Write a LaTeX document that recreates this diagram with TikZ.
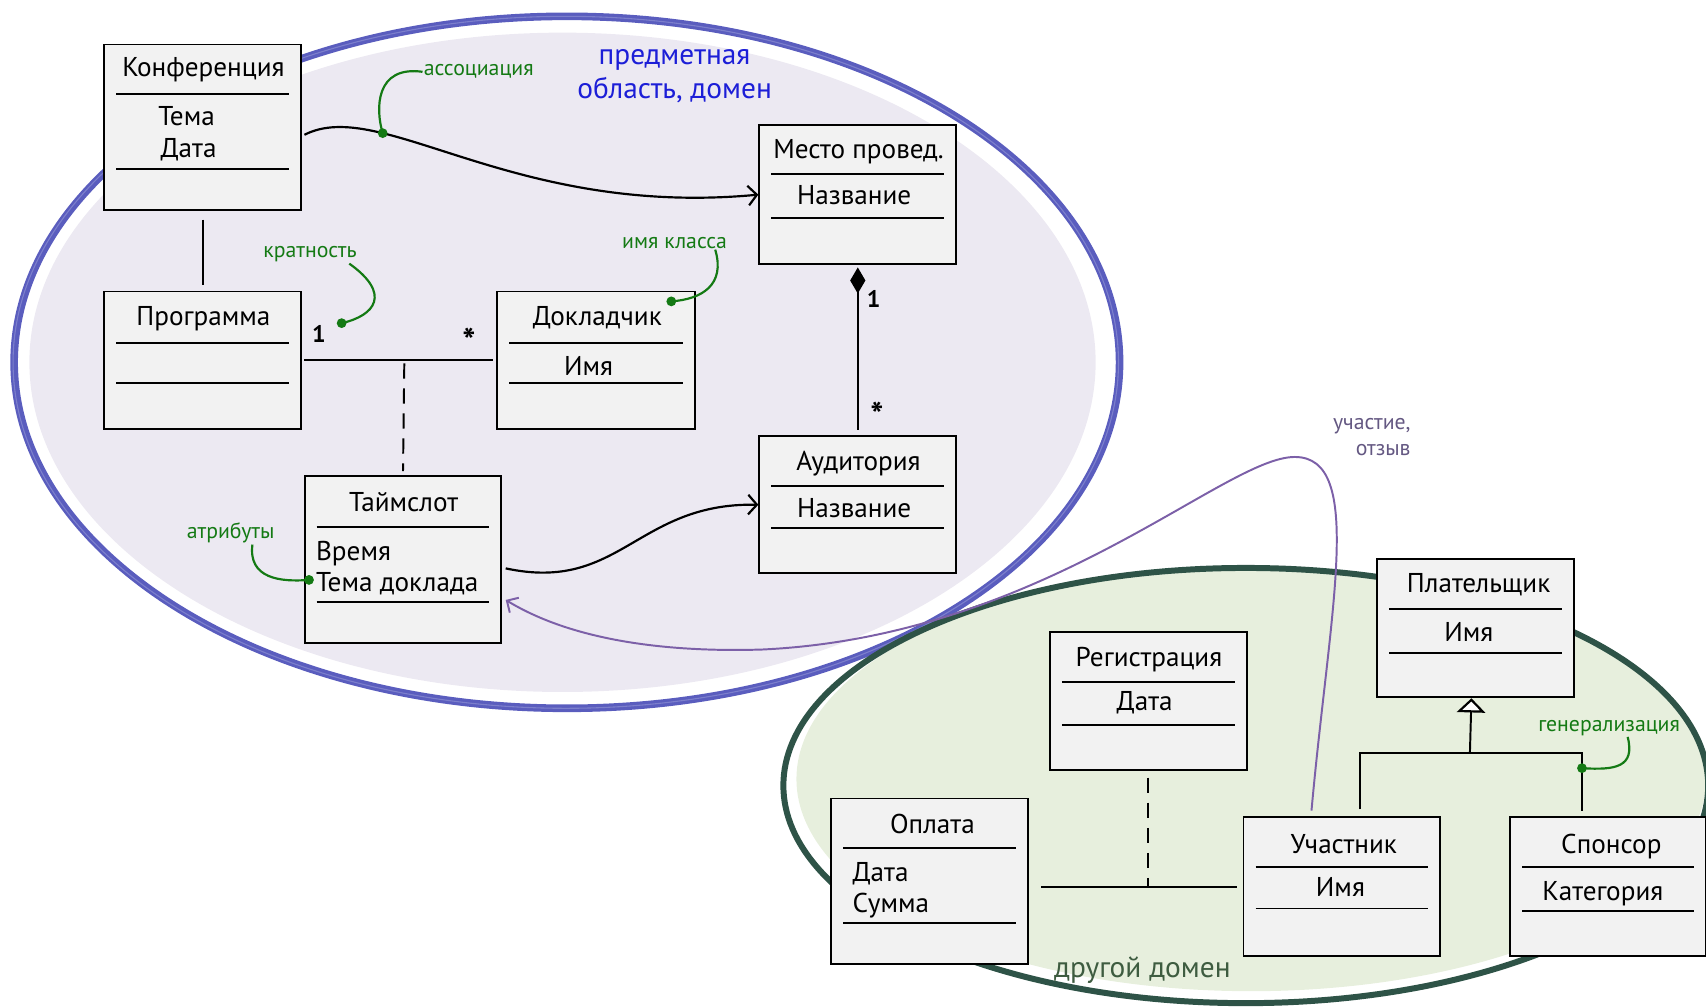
\documentclass[tikz,border=0pt]{standalone}
\usepackage{fontspec}
\setmainfont{PT Sans}
\usetikzlibrary{arrows.meta,calc}
\definecolor{boxfill}{RGB}{242,242,242}
\definecolor{domfill}{RGB}{236,233,242}
\definecolor{domline}{RGB}{90,93,190}
\definecolor{othfill}{RGB}{231,239,221}
\definecolor{othline}{RGB}{46,83,71}
\definecolor{annot}{RGB}{20,122,20}
\definecolor{domtxt}{RGB}{28,30,215}
\definecolor{othtxt}{RGB}{62,92,64}
\definecolor{partc}{RGB}{124,96,168}
\definecolor{parttxt}{RGB}{100,88,130}
\newcommand\umlbox[5]{\node[cls, minimum width=#4pt, minimum height=#5pt] (#1) at (#2,#3) {};}
\newcommand\sepl[2]{\draw[sep] ([xshift=12pt,yshift=-#2pt]#1.north west) -- ([xshift=-12pt,yshift=-#2pt]#1.north east);}
\begin{document}
\begin{tikzpicture}[x=1pt,y=-1pt,
  cls/.style={draw=black, line width=1.8pt, fill=boxfill, anchor=north west, inner sep=0pt},
  sep/.style={line width=1.8pt},
  ttl/.style={font=\fontsize{25}{28}\selectfont, anchor=base},
  attrl/.style={font=\fontsize{25}{28}\selectfont, anchor=base west},
  conn/.style={line width=1.8pt},
  assocarrow/.style={line width=2pt, -{Straight Barb[length=8pt,width=18pt]}},
  note/.style={text=annot, font=\fontsize{20}{22}\selectfont, inner sep=1pt, yshift=-3pt},
  noteline/.style={draw=annot, line width=2pt},
  notedot/.style={circle, fill=annot, inner sep=0pt, minimum size=9pt},
  mult/.style={font=\bfseries\fontsize{22}{24}\selectfont},
  multstar/.style={font=\bfseries\fontsize{32}{34}\selectfont}
]
\useasboundingbox (0,0) rectangle (1568,926);
% domains
\fill[domfill] (517,333) ellipse [x radius=490pt, y radius=303pt];
\draw[domline, line width=7pt] (521,333) ellipse [x radius=508pt, y radius=318pt];
\draw[domline!70!white, line width=1pt, opacity=.7] (520,333) ellipse [x radius=508pt, y radius=318pt];
\fill[othfill] (1150,716) ellipse [x radius=418pt, y radius=195pt];
\draw[othline, line width=5.5pt] (1145,722) ellipse [x radius=425pt, y radius=200pt];
\node[text=domtxt, font=\fontsize{27}{32}\selectfont, align=center] (domlbl) at (620,70) {предметная\\область, домен};
\node[text=othtxt, font=\fontsize{27}{30}\selectfont, anchor=mid] (othlbl) at (1050,896) {другой домен};

% class boxes
\umlbox{konf}{95}{40}{181}{152}
\umlbox{mesto}{697}{114}{181}{128}
\umlbox{prog}{95}{267}{181}{126}
\umlbox{dokl}{456}{267}{182}{126}
\umlbox{aud}{697}{400}{181}{126}
\umlbox{tslot}{279}{437}{181}{153}
\umlbox{reg}{964}{580}{181}{127}
\umlbox{opl}{763}{733}{181}{152}
\umlbox{uch}{1142}{750}{181}{128}
\umlbox{spon}{1387}{750}{180}{128}
\umlbox{plat}{1265}{513}{181}{127}

\sepl{konf}{46}\sepl{konf}{115}
\sepl{mesto}{46}\sepl{mesto}{86}
\sepl{prog}{48}\sepl{prog}{85}
\sepl{dokl}{48}\sepl{dokl}{85}
\sepl{aud}{47}\sepl{aud}{85}
\sepl{tslot}{47}\sepl{tslot}{116}
\sepl{reg}{47}\sepl{reg}{86}
\sepl{opl}{46}\sepl{opl}{115}
\sepl{uch}{47}\sepl{uch}{85}
\sepl{spon}{47}\sepl{spon}{87}
\sepl{plat}{47}\sepl{plat}{87}

\node[ttl] (konf-t) at (187,70) {Конференция};
\node[attrl] (konf-a) at (142,115) {Тема};
\node[attrl] (konf-b) at (144,145) {Дата};
\node[ttl] (mesto-t) at (789,146) {Место провед.};
\node[attrl] (mesto-a) at (729,188) {Название};
\node[ttl] (prog-t) at (187,299) {Программа};
\node[ttl] (dokl-t) at (549,299) {Докладчик};
\node[ttl] (dokl-a) at (541,345) {Имя};
\node[ttl] (aud-t) at (789,432) {Аудитория};
\node[attrl] (aud-a) at (729,476) {Название};
\node[ttl] (tslot-t) at (371,470) {Таймслот};
\node[attrl] (tslot-a) at (287,515) {Время};
\node[attrl] (tslot-b) at (287,544) {Тема доклада};
\node[ttl] (reg-t) at (1056,613) {Регистрация};
\node[ttl] (reg-a) at (1052,653) {Дата};
\node[ttl] (opl-t) at (857,766) {Оплата};
\node[attrl] (opl-a) at (780,810) {Дата};
\node[attrl] (opl-b) at (780,839) {Сумма};
\node[ttl] (uch-t) at (1235,784) {Участник};
\node[ttl] (uch-a) at (1232,824) {Имя};
\node[ttl] (spon-t) at (1481,784) {Спонсор};
\node[attrl] (spon-a) at (1414,828) {Категория};
\node[ttl] (plat-t) at (1359,545) {Плательщик};
\node[ttl] (plat-a) at (1350,590) {Имя};

% connectors
\draw[assocarrow] ([xshift=2pt,yshift=-7pt]konf.east) .. controls (350,88) and (470,200) .. coordinate[pos=0.28] (assocpt) (mesto.west);
\draw[conn] ([yshift=-8pt]konf.south) -- ([yshift=5pt]prog.north);
\draw[conn] ([xshift=2pt]prog.east) -- coordinate[pos=0.53] (progmid) ([xshift=-3pt]dokl.west);
\draw[conn, dashed, dash pattern=on 14pt off 9pt] ([yshift=-3pt]progmid) -- ([yshift=4pt]tslot.north);
\node[mult] (m1) at (293,307) {1};
\node[multstar] (m2) at (431,313) {*};
\draw[conn, {Diamond[length=24pt,width=14pt]}-] ([yshift=-2pt]mesto.south) -- ([yshift=5pt]aud.north);
\node[mult] (m3) at (803,275) {1};
\node[multstar] (m4) at (806,381) {*};
\draw[assocarrow] ([xshift=3pt,yshift=-8pt]tslot.east) .. controls (570,545) and (585,462) .. (aud.west);
\draw[partc, line width=1.8pt, -{Straight Barb[length=8pt,width=16pt]}] ([xshift=-28pt,yshift=5pt]uch.north) .. controls (1222,560) and (1255,420) .. (1190,420) .. controls (1125,420) and (960,585) .. (700,597) .. controls (600,600) and (520,585) .. ([xshift=3pt,yshift=-37pt]tslot.east);
\node[text=parttxt, font=\fontsize{20}{24}\selectfont, align=right, anchor=north east] (partlbl) at (1300,381) {участие,\\отзыв};
\draw[conn, dashed, dash pattern=on 14pt off 9pt] ([yshift=-6pt]reg.south) -- (reg.south |- uch.west);
\draw[conn] ([xshift=11pt]opl.east |- uch.west) -- ([xshift=-5pt]uch.west);
\coordinate (gen) at (1351,692);
\draw[conn, -{Triangle[open,length=13pt,width=26pt,fill=white,line width=2pt]}] (gen) -- ([xshift=-4pt]plat.south);
\draw[conn] ([xshift=17pt,yshift=6pt]uch.north) |- (gen) -| ([xshift=-24pt,yshift=5pt]spon.north);

% annotations
\node[note] (n1) at (440,63) {ассоциация};
\node[notedot] (d1) at (assocpt) {};
\draw[noteline] (n1.west) .. controls (345,60) and (345,100) .. (d1.center);
\node[note] (n2) at (285,231) {кратность};
\node[notedot] (d2) at (314,297) {};
\draw[noteline] ([xshift=-8pt]n2.south east) .. controls (360,270) and (345,290) .. (d2.center);
\node[note] (n3) at (620,220) {имя класса};
\node[notedot] (d3) at (617,277) {};
\draw[noteline] ([xshift=-12pt]n3.south east) .. controls (667,262) and (645,275) .. (d3.center);
\node[note] (n4) at (212,487) {атрибуты};
\node[notedot] (d4) at (284,533) {};
\draw[noteline] ([xshift=20pt]n4.south) .. controls (228,532) and (258,535) .. (d4.center);
\node[note] (n5) at (1479,666) {генерализация};
\node[notedot] (d5) at (1454,706) {};
\draw[noteline] ([xshift=17pt]n5.south) .. controls (1503,705) and (1485,708) .. (d5.center);
\end{tikzpicture}
\end{document}
